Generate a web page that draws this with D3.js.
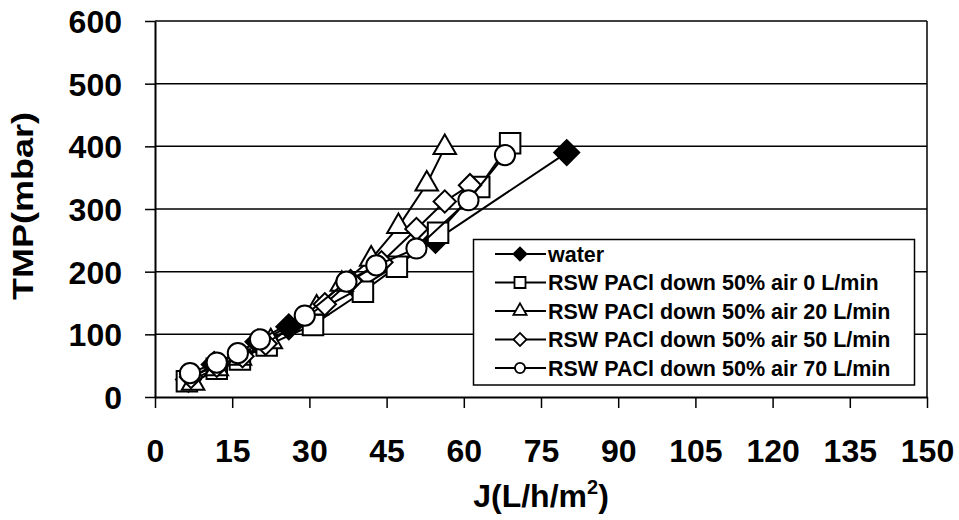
<!DOCTYPE html>
<html>
<head>
<meta charset="utf-8">
<script src="https://cdn.jsdelivr.net/npm/d3@7"></script>
<style>
  html, body { margin: 0; padding: 0; background: #fff; }
  svg { display: block; font-family: "Liberation Sans", Arial, sans-serif; font-weight: bold; }
</style>
</head>
<body>
<svg id="chart" width="959" height="520"></svg>
<script>
// ---- data ----
const seriesNames = [
  "water",
  "RSW PACl down 50% air 0 L/min",
  "RSW PACl down 50% air 20 L/min",
  "RSW PACl down 50% air 50 L/min",
  "RSW PACl down 50% air 70 L/min"
];
const J_water  = [6.5, 11.5, 20, 26, 39.5, 54.5, 80];
const TMP_water = [28, 52, 88, 112, 172, 250, 390];
const J_air0   = [6.2, 12, 16.5, 21.7, 30.7, 40.4, 47, 55, 63, 69];
const TMP_air0 = [25, 45, 60, 82, 115, 168, 208, 262, 335, 405];
const J_air20  = [7.4, 12, 16.5, 22.5, 31.4, 36.3, 42, 47.3, 52.8, 56.3];
const TMP_air20 = [22, 45, 62, 88, 142, 180, 220, 272, 340, 398];
const J_air50  = [7, 12, 17, 21.5, 33, 38, 44, 50.8, 56.3, 61.2];
const TMP_air50 = [32, 50, 65, 85, 148, 185, 215, 268, 312, 338];
const J_air70  = [6.8, 12, 16.1, 20.4, 29.1, 37.2, 43, 50.8, 60.9, 68];
const TMP_air70 = [38, 55, 70, 92, 130, 184, 210, 237, 314, 386];
const xTicks = [0, 15, 30, 45, 60, 75, 90, 105, 120, 135, 150];
const yTicks = [0, 100, 200, 300, 400, 500, 600];
const xTitle = "J(L/h/m";
const xTitleSup = "2";
const yTitle = "TMP(mbar)";

(function () {
// ---- layout ----
const svg = d3.select("#chart");
const pL = 155, pR = 927, pT = 21, pB = 397;
const x = d3.scaleLinear().domain([0, 150]).range([pL, pR]);
const y = d3.scaleLinear().domain([0, 600]).range([pB, pT]);

// gridlines
svg.append("g").selectAll("line").data(yTicks.filter(d => d > 0)).join("line")
  .attr("x1", pL).attr("x2", pR)
  .attr("y1", d => y(d)).attr("y2", d => y(d))
  .attr("stroke", "#000").attr("stroke-width", 1.5);

// right border
svg.append("line").attr("x1", pR).attr("x2", pR).attr("y1", pT).attr("y2", pB)
  .attr("stroke", "#000").attr("stroke-width", 1.5);

// axes
const xAxis = d3.axisBottom(x).tickValues(xTicks).tickSize(11).tickPadding(31).tickSizeOuter(0);
const gx = svg.append("g").attr("transform", `translate(0,${pB})`).call(xAxis);
gx.select(".domain").attr("stroke", "#000").attr("stroke-width", 2);
gx.selectAll(".tick line").attr("stroke", "#000").attr("stroke-width", 1.5);
gx.selectAll(".tick text").attr("font-size", 32).attr("font-weight", "bold")
  .attr("font-family", "'Liberation Sans', Arial, sans-serif").attr("fill", "#000");

const yAxis = d3.axisLeft(y).tickValues(yTicks).tickSize(10).tickPadding(23).tickSizeOuter(0);
const gy = svg.append("g").attr("transform", `translate(${pL},0)`).call(yAxis);
gy.select(".domain").attr("stroke", "#000").attr("stroke-width", 2);
gy.selectAll(".tick line").attr("stroke", "#000").attr("stroke-width", 1.5);
gy.selectAll(".tick text").attr("font-size", 32).attr("font-weight", "bold")
  .attr("font-family", "'Liberation Sans', Arial, sans-serif").attr("fill", "#000")
  .attr("dy", "0.36em");

// axis titles
const xt = svg.append("text").attr("x", (pL + pR) / 2).attr("y", 507)
  .attr("text-anchor", "middle").attr("font-size", 32).attr("fill", "#000");
xt.append("tspan").text(xTitle);
xt.append("tspan").attr("font-size", 20).attr("dy", -13).text(xTitleSup);
xt.append("tspan").attr("dy", 13).text(")");

svg.append("text").attr("transform", `translate(33,206) rotate(-90)`)
  .attr("text-anchor", "middle").attr("font-size", 30).attr("fill", "#000")
  .attr("textLength", 188).attr("lengthAdjust", "spacingAndGlyphs")
  .text(yTitle);

// ---- series ----
const series = [
  { name: seriesNames[0], J: J_water, T: TMP_water, sym: d3.symbolSquare, size: 312, rot: 45, fill: "#000", lsize: 85 },
  { name: seriesNames[1], J: J_air0, T: TMP_air0, sym: d3.symbolSquare, size: 420, rot: 0, fill: "#fff", lsize: 121 },
  { name: seriesNames[2], J: J_air20, T: TMP_air20, sym: d3.symbolTriangle, size: 220, rot: 0, fill: "#fff", lsize: 75 },
  { name: seriesNames[3], J: J_air50, T: TMP_air50, sym: d3.symbolSquare, size: 250, rot: 45, fill: "#fff", lsize: 85 },
  { name: seriesNames[4], J: J_air70, T: TMP_air70, sym: d3.symbolCircle, size: 320, rot: 0, fill: "#fff", lsize: 80 }
];

const line = d3.line().x(d => x(d[0])).y(d => y(d[1]));
const plot = svg.append("g");
series.forEach(s => {
  const pts = s.J.map((j, i) => [j, s.T[i]]);
  const g = plot.append("g");
  g.append("path").attr("d", line(pts)).attr("fill", "none")
    .attr("stroke", "#000").attr("stroke-width", 2);
  g.selectAll("path.m").data(pts).join("path").attr("class", "m")
    .attr("d", d3.symbol().type(s.sym).size(s.size)())
    .attr("transform", d => `translate(${x(d[0])},${y(d[1])}) rotate(${s.rot})`)
    .attr("fill", s.fill).attr("stroke", "#000").attr("stroke-width", 2);
});

// ---- legend ----
const lg = svg.append("g");
lg.append("rect").attr("x", 473.5).attr("y", 239.5).attr("width", 441).attr("height", 145.5)
  .attr("fill", "#fff").attr("stroke", "#000").attr("stroke-width", 1.5);
const rowY = d3.scaleLinear().domain([0, 4]).range([254, 368]);
series.forEach((s, i) => {
  const cy = rowY(i);
  lg.append("line").attr("x1", 495).attr("x2", 546).attr("y1", cy).attr("y2", cy)
    .attr("stroke", "#000").attr("stroke-width", 2);
  lg.append("path").attr("d", d3.symbol().type(s.sym).size(s.lsize)())
    .attr("transform", `translate(520,${cy}) rotate(${s.rot})`)
    .attr("fill", s.fill).attr("stroke", "#000").attr("stroke-width", 1.8);
  lg.append("text").attr("x", 548).attr("y", cy + 7.5).attr("font-size", 21.5)
    .attr("fill", "#000").text(s.name);
});
})();
</script>
</body>
</html>
